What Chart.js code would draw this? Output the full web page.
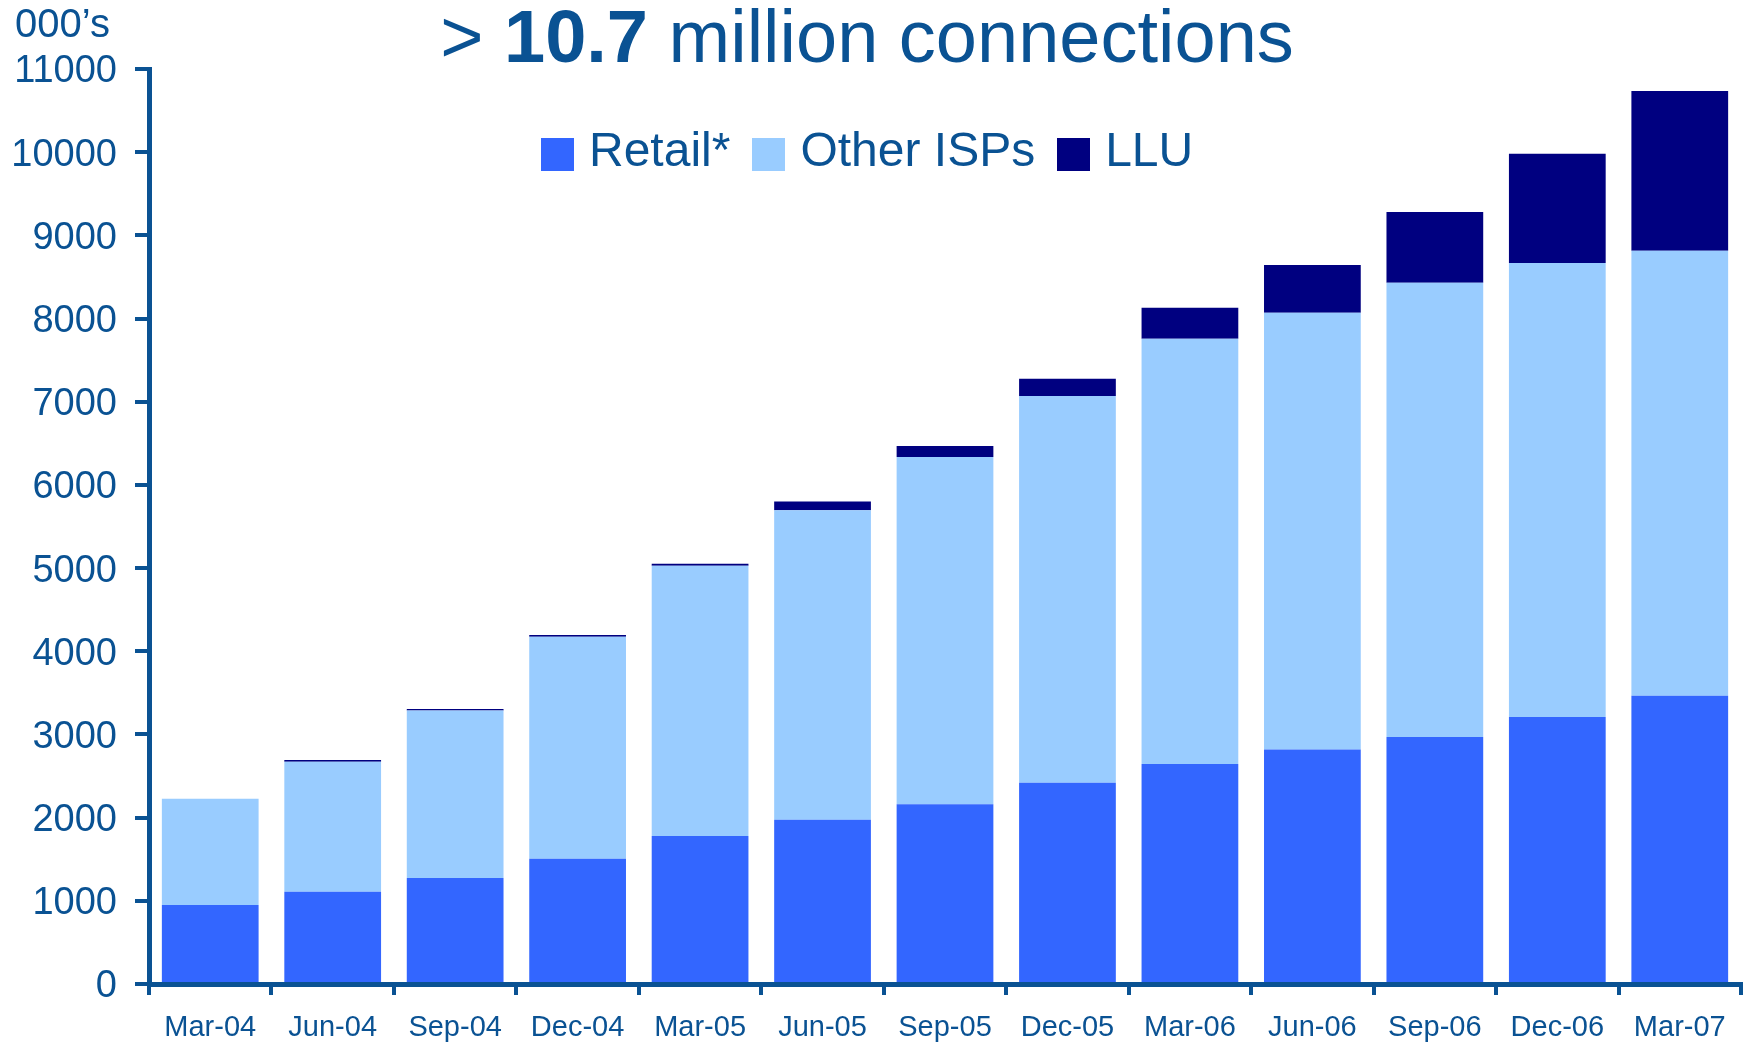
<!DOCTYPE html>
<html>
<head>
<meta charset="utf-8">
<title>Broadband connections</title>
<script src="https://cdn.jsdelivr.net/npm/chart.js@4.4.1/dist/chart.umd.min.js"></script>
<style>
  body { margin: 0; background: #fff; }
  #wrap { position: relative; width: 1744px; height: 1043px; font-family: 'Liberation Sans', Arial, sans-serif; color: #0A5293; }
  #units { position: absolute; left: 15px; top: 3px; font-size: 40px; line-height: 1; }
  #headline { position: absolute; left: 0; width: 1734px; top: 0; text-align: center; font-size: 74px; line-height: 1; }
  #legend { position: absolute; left: 541px; top: 126px; display: flex; align-items: center; font-size: 48px; line-height: 1; }
  .legend-item { display: flex; align-items: center; margin-right: 22px; }
  .legend-box { width: 33px; height: 33px; margin-right: 15px; margin-top: 8px; }
</style>
</head>
<body>
<div id="wrap">
  <canvas id="connChart" width="1744" height="1043"></canvas>
  <div id="units">000’s</div>
  <div id="headline">&gt; <b>10.7</b> million connections</div>
  <div id="legend"></div>
</div>
<script>
const quarters = ['Mar-04', 'Jun-04', 'Sep-04', 'Dec-04', 'Mar-05', 'Jun-05', 'Sep-05',
  'Dec-05', 'Mar-06', 'Jun-06', 'Sep-06', 'Dec-06', 'Mar-07'];

// connections in 000's
const retail = [950, 1110, 1275, 1505, 1780, 1975, 2160, 2420, 2645, 2820, 2970, 3210, 3465];
const otherIsps = [1278, 1562, 2014, 2669, 3248, 3720, 4176, 4650, 5111, 5249, 5459, 5459, 5349];
const llu = [0, 22, 18, 22, 24, 106, 132, 206, 373, 576, 853, 1311, 1921];

const seriesNames = ['Retail*', 'Other ISPs', 'LLU'];
const seriesColors = ['#3366FF', '#99CCFF', '#000080'];

const yMax = 11000;
const yStep = 1000;

const ink = '#0A5293';
Chart.defaults.font.family = "'Liberation Sans', Arial, sans-serif";
Chart.defaults.color = ink;

function makeDataset(i, values) {
  return {
    label: seriesNames[i],
    data: values,
    backgroundColor: seriesColors[i],
    borderWidth: 0,
    categoryPercentage: 1,
    barPercentage: 0.79
  };
}

const ctx = document.getElementById('connChart').getContext('2d');
const chart = new Chart(ctx, {
  type: 'bar',
  data: {
    labels: quarters,
    datasets: [
      makeDataset(0, retail),
      makeDataset(1, otherIsps),
      makeDataset(2, llu)
    ]
  },
  options: {
    responsive: false,
    animation: false,
    layout: { padding: { top: 69, right: 3, left: 0, bottom: 0 } },
    plugins: {
      legend: { display: false },
      tooltip: { enabled: false }
    },
    scales: {
      x: {
        stacked: true,
        afterFit: scale => { scale.height = 59; },
        border: { color: ink, width: 5 },
        grid: { drawOnChartArea: false, color: ink, lineWidth: 4, tickLength: 11, offset: true },
        ticks: { font: { size: 29 }, color: ink, padding: 16, maxRotation: 0, autoSkip: false }
      },
      y: {
        stacked: true,
        min: 0,
        max: yMax,
        afterFit: scale => { scale.width = 149; },
        border: { color: ink, width: 5 },
        grid: { drawOnChartArea: false, color: ink, lineWidth: 4, tickLength: 14 },
        ticks: {
          stepSize: yStep,
          font: { size: 38 },
          color: ink,
          padding: 18,
          labelOffset: 3,
          callback: value => String(value)   // plain numbers, no thousands separator
        }
      }
    }
  }
});

// legend built from the chart's own datasets
function renderLegend() {
  const box = document.getElementById('legend');
  box.innerHTML = '';
  chart.data.datasets.forEach(ds => {
    const item = document.createElement('div');
    item.className = 'legend-item';
    item.innerHTML = `<span class="legend-box" style="background:${ds.backgroundColor}"></span><span>${ds.label}</span>`;
    box.appendChild(item);
  });
}

renderLegend();
</script>
</body>
</html>
